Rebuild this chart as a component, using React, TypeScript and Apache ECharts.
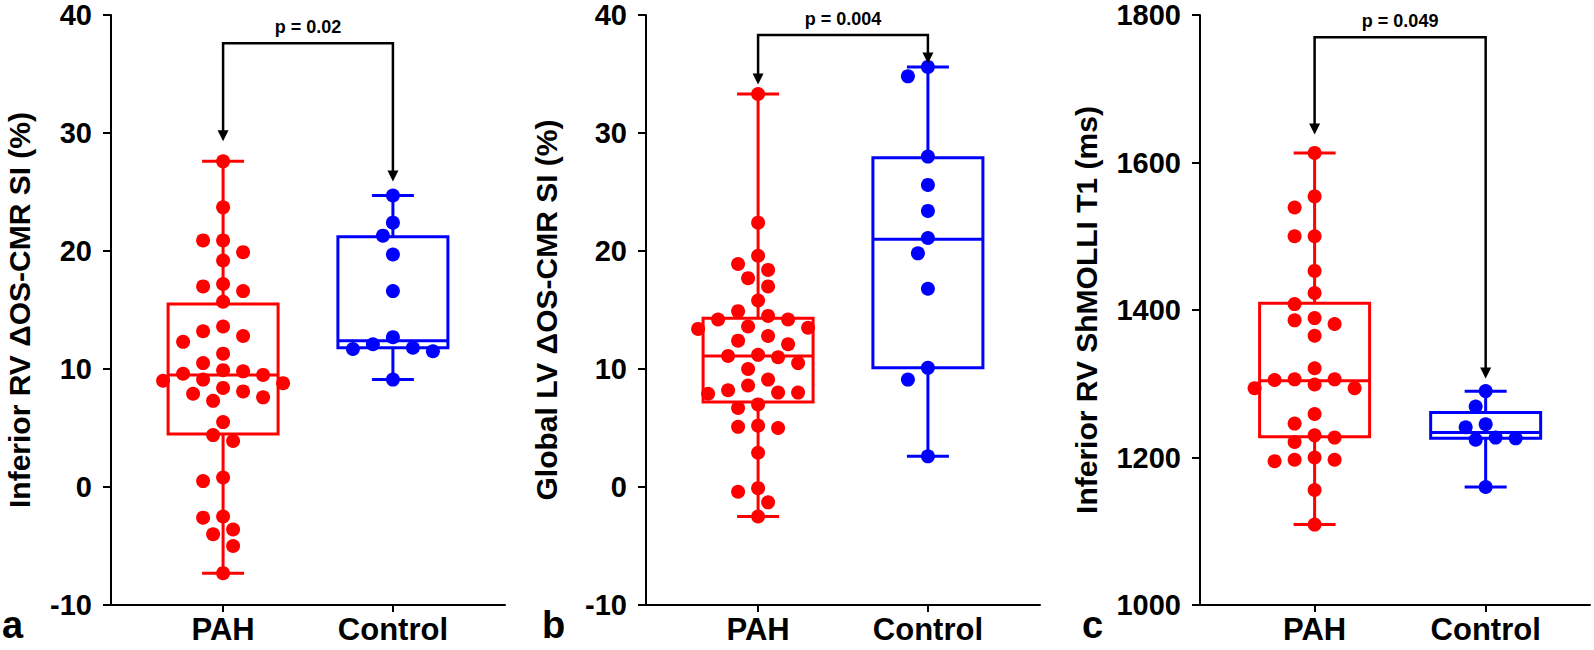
import React, { useEffect, useRef } from "react";
import * as echarts from "echarts";

// ---------- DATA ----------
const categories = ["PAH", "Control"];

const yTitles = [
  "Inferior RV ΔOS-CMR SI (%)",
  "Global LV ΔOS-CMR SI (%)",
  "Inferior RV ShMOLLI T1 (ms)",
];
const panelLetters = ["a", "b", "c"];
const pLabels = ["p = 0.02", "p = 0.004", "p = 0.049"];

// panel a
const aPAH = [27.6, 23.7, 20.9, 20.9, 19.9, 19.2, 17.2, 17.0, 16.6, 15.7, 13.6, 13.2, 12.8, 12.3, 11.3, 10.5, 9.9, 9.8, 9.6, 9.5, 9.1, 9.0, 8.8, 8.4, 8.1, 7.9, 7.6, 7.3, 5.5, 4.4, 3.9, 0.8, 0.5, -2.5, -2.6, -3.6, -4.0, -5.0, -7.3];
const aControl = [24.7, 22.4, 21.3, 19.7, 16.6, 12.7, 12.1, 11.8, 11.7, 11.5, 9.1];
// [min, Q1, median, Q3, max]
const aPAHBox = [-7.3, 4.5, 9.5, 15.5, 27.6];
const aControlBox = [9.1, 11.8, 12.4, 21.2, 24.7];
// [bracket level, PAH arrow tip, Control arrow tip]
const aBracket = [37.6, 29.3, 25.9];

// panel b
const bPAH = [33.3, 22.4, 19.6, 18.9, 18.4, 17.7, 17.0, 15.8, 14.9, 14.5, 14.2, 14.2, 13.6, 13.5, 13.4, 12.8, 12.4, 12.1, 11.2, 11.1, 11.0, 10.5, 10.0, 9.1, 8.6, 8.2, 8.0, 8.0, 7.9, 7.0, 6.7, 5.2, 5.1, 5.0, 2.9, -0.1, -0.4, -1.3, -2.5];
const bControl = [35.6, 34.8, 28.0, 25.6, 23.4, 21.1, 19.8, 16.8, 10.1, 9.1, 2.6];
const bPAHBox = [-2.5, 7.2, 11.1, 14.3, 33.3];
const bControlBox = [2.6, 10.1, 21.0, 27.9, 35.6];
const bBracket = [38.3, 34.1, 35.9];

// panel c
const cPAH = [1613, 1554, 1539, 1500, 1500, 1453, 1423, 1408, 1389, 1386, 1381, 1365, 1321, 1306, 1306, 1305, 1299, 1294, 1294, 1259, 1246, 1230, 1227, 1221, 1200, 1197, 1197, 1195, 1156, 1109];
const cControl = [1290, 1269, 1245, 1241, 1227, 1226, 1224, 1160];
const cPAHBox = [1109, 1228, 1304, 1409, 1613];
const cControlBox = [1160, 1226, 1234, 1261, 1290];
const cBracket = [1770, 1638, 1307];

// y-axis scales
const yMins = [-10, -10, 1000];
const yMaxs = [40, 40, 1800];
const yIntervals = [10, 10, 200];

// ---------- LAYOUT / STYLE ----------
const RED = "#ff0000";
const BLUE = "#0000ff";
const FONT = '"Liberation Sans", Arial, sans-serif';
const GRID_TOP = 15;
const GRID_H = 590;
const layout = [
  { left: 111, width: 394, xMin: -0.66, xMax: 1.66, nameGap: 77, letterX: 0 },
  { left: 646, width: 394, xMin: -0.66, xMax: 1.66, nameGap: 85, letterX: 540 },
  { left: 1200, width: 390, xMin: -0.67, xMax: 1.61, nameGap: 99, letterX: 1080 },
];

const DOT = 14;

function swarm(values: number[], center: number, pxPerX: number, pxPerY: number) {
  const D = 15.5;
  const step = 10;
  const order = values.map((_, i) => i).sort((i, j) => values[j] - values[i]);
  const placed: { x: number; y: number }[] = [];
  const out: number[][] = new Array(values.length);
  for (const i of order) {
    const y = values[i] * pxPerY;
    for (let k = 0; k < 40; k++) {
      const off = (k % 2 === 1 ? -1 : 1) * Math.ceil(k / 2) * step;
      if (placed.every((p) => (p.x - off) ** 2 + (p.y - y) ** 2 >= D * D)) {
        placed.push({ x: off, y });
        out[i] = [center + off / pxPerX, values[i]];
        break;
      }
    }
  }
  return out;
}

const App: React.FC = () => {
  const ref = useRef<HTMLDivElement>(null);

  useEffect(() => {
    if (!ref.current) return;
    const chart = echarts.init(ref.current, undefined, { renderer: "svg" });

    const groups = [
      { pah: aPAH, ctl: aControl, pahBox: aPAHBox, ctlBox: aControlBox, br: aBracket },
      { pah: bPAH, ctl: bControl, pahBox: bPAHBox, ctlBox: bControlBox, br: bBracket },
      { pah: cPAH, ctl: cControl, pahBox: cPAHBox, ctlBox: cControlBox, br: cBracket },
    ];

    const grid: any[] = [];
    const xAxis: any[] = [];
    const yAxis: any[] = [];
    const series: any[] = [];
    const graphic: any[] = [];

    groups.forEach((g, p) => {
      const L = layout[p];
      grid.push({ left: L.left, top: GRID_TOP, width: L.width, height: GRID_H, containLabel: false });
      xAxis.push({
        type: "value",
        gridIndex: p,
        min: L.xMin,
        max: L.xMax,
        splitLine: { show: false },
        axisLine: { onZero: false, lineStyle: { color: "#000", width: 2 } },
        axisTick: { customValues: [0, 1], length: 7, lineStyle: { color: "#000", width: 2 } },
        axisLabel: {
          customValues: [0, 1],
          formatter: (v: number) => categories[Math.round(v)] ?? "",
          color: "#000",
          fontFamily: FONT,
          fontWeight: "bold",
          fontSize: 31,
          margin: 9,
        },
      });
      yAxis.push({
        type: "value",
        gridIndex: p,
        min: yMins[p],
        max: yMaxs[p],
        interval: yIntervals[p],
        splitLine: { show: false },
        axisLine: { show: true, onZero: false, lineStyle: { color: "#000", width: 2 } },
        axisTick: { show: true, length: 8, lineStyle: { color: "#000", width: 2 } },
        axisLabel: {
          color: "#000",
          fontFamily: FONT,
          fontWeight: "bold",
          fontSize: 29,
          margin: 19,
          formatter: (v: number) => String(v),
        },
        name: yTitles[p],
        nameLocation: "middle",
        nameRotate: 90,
        nameGap: L.nameGap,
        nameTextStyle: { color: "#000", fontFamily: FONT, fontWeight: "bold", fontSize: 30 },
      });

      const pxPerX = L.width / (L.xMax - L.xMin);
      const pxPerY = GRID_H / (yMaxs[p] - yMins[p]);

      // boxes
      series.push({
        type: "custom",
        xAxisIndex: p,
        yAxisIndex: p,
        clip: false,
        encode: { x: 0, y: [1, 2, 3, 4, 5] },
        data: [
          [0, ...g.pahBox, 0],
          [1, ...g.ctlBox, 1],
        ],
        z: 2,
        renderItem: (_params: any, api: any) => {
          const x = api.value(0);
          const vals = [1, 2, 3, 4, 5].map((i) => api.value(i));
          const [pMin, pQ1, pMed, pQ3, pMax] = vals.map((v) => api.coord([x, v]));
          const cx = pMin[0];
          const hw = 55;
          const cw = 21;
          const color = api.value(6) === 0 ? RED : BLUE;
          const st = { stroke: color, lineWidth: 3, fill: null };
          return {
            type: "group",
            children: [
              { type: "rect", shape: { x: cx - hw, y: pQ3[1], width: 2 * hw, height: pQ1[1] - pQ3[1] }, style: st },
              { type: "line", shape: { x1: cx - hw, y1: pMed[1], x2: cx + hw, y2: pMed[1] }, style: st },
              { type: "line", shape: { x1: cx, y1: pMax[1], x2: cx, y2: pQ3[1] }, style: st },
              { type: "line", shape: { x1: cx, y1: pQ1[1], x2: cx, y2: pMin[1] }, style: st },
              { type: "line", shape: { x1: cx - cw, y1: pMax[1], x2: cx + cw, y2: pMax[1] }, style: st },
              { type: "line", shape: { x1: cx - cw, y1: pMin[1], x2: cx + cw, y2: pMin[1] }, style: st },
            ],
          };
        },
      });

      series.push({
        type: "scatter",
        xAxisIndex: p,
        yAxisIndex: p,
        symbol: "circle",
        symbolSize: DOT,
        itemStyle: { color: RED, opacity: 1 },
        z: 3,
        data: swarm(g.pah, 0, pxPerX, pxPerY),
      });
      series.push({
        type: "scatter",
        xAxisIndex: p,
        yAxisIndex: p,
        symbol: "circle",
        symbolSize: DOT,
        itemStyle: { color: BLUE, opacity: 1 },
        z: 3,
        data: swarm(g.ctl, 1, pxPerX, pxPerY),
      });

      // bracket with arrows
      series.push({
        type: "custom",
        xAxisIndex: p,
        yAxisIndex: p,
        clip: false,
        encode: { x: 0, y: 1 },
        data: [[0, g.br[0]]],
        z: 4,
        renderItem: (_params: any, api: any) => {
          const l = api.coord([0, g.br[0]]);
          const r = api.coord([1, g.br[0]]);
          const lt = api.coord([0, g.br[1]]);
          const rt = api.coord([1, g.br[2]]);
          const ah = 11;
          const aw = 5.5;
          return {
            type: "group",
            children: [
              {
                type: "polyline",
                shape: { points: [[lt[0], lt[1] - ah + 1], [l[0], l[1]], [r[0], r[1]], [rt[0], rt[1] - ah + 1]] },
                style: { stroke: "#000", lineWidth: 2.5, fill: null },
              },
              {
                type: "polygon",
                shape: { points: [[lt[0] - aw, lt[1] - ah], [lt[0] + aw, lt[1] - ah], [lt[0], lt[1]]] },
                style: { fill: "#000" },
              },
              {
                type: "polygon",
                shape: { points: [[rt[0] - aw, rt[1] - ah], [rt[0] + aw, rt[1] - ah], [rt[0], rt[1]]] },
                style: { fill: "#000" },
              },
              {
                type: "text",
                x: (l[0] + r[0]) / 2,
                y: l[1] - 7,
                style: {
                  text: pLabels[p],
                  align: "center",
                  verticalAlign: "bottom",
                  fontFamily: FONT,
                  fontWeight: "bold",
                  fontSize: 18,
                  fill: "#000",
                },
              },
            ],
          };
        },
      });

      graphic.push({
        type: "text",
        left: L.letterX + 2,
        top: 606,
        style: {
          text: panelLetters[p],
          fontFamily: FONT,
          fontWeight: "bold",
          fontSize: 38,
          fill: "#000",
        },
      });
    });

    chart.setOption({
      animation: false,
      backgroundColor: "#fff",
      grid,
      xAxis,
      yAxis,
      series,
      graphic,
    });

    return () => chart.dispose();
  }, []);

  return (
    <div
      ref={ref}
      style={{ position: "absolute", left: 0, top: 0, width: 1594, height: 650 }}
    />
  );
};

export default App;
